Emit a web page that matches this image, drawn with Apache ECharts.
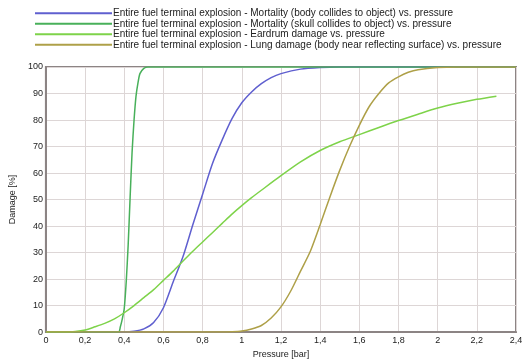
<!DOCTYPE html>
<html>
<head>
<meta charset="utf-8">
<script src="https://cdn.jsdelivr.net/npm/echarts@6/dist/echarts.min.js"></script>
<style>html,body{margin:0;padding:0;background:#fff;}#c{width:530px;height:364px;}</style>
</head>
<body>
<div id="c"></div>
<script>
const seriesNames = [
  'Entire fuel terminal explosion - Mortality (body collides to object) vs. pressure',
  'Entire fuel terminal explosion - Mortality (skull collides to object) vs. pressure',
  'Entire fuel terminal explosion - Eardrum damage vs. pressure',
  'Entire fuel terminal explosion - Lung damage (body near reflecting surface) vs. pressure'
];
const xTicks = [0, 0.2, 0.4, 0.6, 0.8, 1, 1.2, 1.4, 1.6, 1.8, 2, 2.2, 2.4];
const yTicks = [0, 10, 20, 30, 40, 50, 60, 70, 80, 90, 100];

const bodyCollides = [[0,0],[0.4,0],[0.45,0.3],[0.5,1.2],[0.55,3.6],[0.6,9.2],[0.65,19],[0.7,28.5],[0.75,40.5],[0.8,52],[0.85,63.5],[0.9,72.5],[0.95,80.5],[1.0,86.5],[1.05,90.6],[1.1,93.7],[1.15,96],[1.2,97.5],[1.3,99.2],[1.4,99.8],[1.5,100],[2.4,100]];
const skullCollides = [[0,0],[0.37,0],[0.38,2],[0.39,5],[0.40,9],[0.41,19],[0.42,33],[0.43,51],[0.44,68],[0.45,80],[0.46,89],[0.47,94],[0.48,97.5],[0.50,99.5],[0.52,100],[2.4,100]];
const eardrum = [[0,0],[0.1,0],[0.15,0.2],[0.2,0.8],[0.25,2],[0.3,3.3],[0.35,5],[0.4,7.3],[0.45,10],[0.5,13],[0.55,16],[0.6,19.5],[0.65,23],[0.7,26.8],[0.75,30.5],[0.8,34],[0.85,37.5],[0.9,41],[0.95,44.5],[1.0,47.7],[1.05,50.7],[1.1,53.5],[1.2,59],[1.3,64.2],[1.4,68.5],[1.5,71.8],[1.6,74.5],[1.7,77.2],[1.8,79.8],[1.9,82.2],[2.0,84.5],[2.1,86.3],[2.2,87.8],[2.3,89]];
const lung = [[0,0],[0.9,0],[0.95,0.1],[1.0,0.4],[1.05,1.2],[1.1,2.5],[1.15,5.3],[1.2,9.5],[1.25,15.5],[1.3,23],[1.35,30.5],[1.4,40.5],[1.45,51],[1.5,61],[1.55,70],[1.6,78],[1.65,85],[1.7,90],[1.75,94],[1.8,96.3],[1.85,98],[1.9,99],[2.0,99.8],[2.1,100],[2.4,100]];

const colors = ['#5f5fcf', '#48b05a', '#7ed34a', '#aea048'];
const dataSets = [bodyCollides, skullCollides, eardrum, lung];

const fmt = v => String(Math.round(v * 10) / 10).replace('.', ',');
const font = 'Liberation Sans, Arial, sans-serif';

const chart = echarts.init(document.getElementById('c'), null, {renderer: 'canvas'});
chart.setOption({
  animation: false,
  backgroundColor: '#fff',
  color: colors,
  legend: {
    orient: 'vertical',
    left: 30,
    top: 3,
    itemWidth: 77,
    itemHeight: 2,
    itemGap: 0,
    icon: 'rect',
    textStyle: {fontSize: 10, fontFamily: font, color: '#222', padding: [0, 0, 0, -4], lineHeight: 10.5},
    data: seriesNames
  },
  grid: {left: 45, right: 14, top: 67, bottom: 29, show: true, borderColor: '#8c8484', borderWidth: 2},
  xAxis: {
    type: 'value', min: 0, max: 2.4, interval: 0.2,
    name: 'Pressure [bar]', nameLocation: 'middle', nameGap: 17,
    nameTextStyle: {fontSize: 9, fontFamily: font, color: '#222'},
    axisLine: {show: true, onZero: false, lineStyle: {color: '#8c8484', width: 2}},
    axisTick: {show: false},
    axisLabel: {fontSize: 9, fontFamily: font, color: '#222', margin: 4, formatter: v => fmt(v), showMaxLabel: true},
    splitLine: {show: true, lineStyle: {color: '#ddd6d6', width: 1}}
  },
  yAxis: {
    type: 'value', min: 0, max: 100, interval: 10,
    name: 'Damage [%]', nameLocation: 'middle', nameGap: 27,
    nameTextStyle: {fontSize: 9, fontFamily: font, color: '#222'},
    axisLine: {show: true, lineStyle: {color: '#8c8484', width: 2}},
    axisTick: {show: false},
    axisLabel: {fontSize: 9, fontFamily: font, color: '#222', margin: 3},
    splitLine: {show: true, lineStyle: {color: '#ddd6d6', width: 1}}
  },
  series: dataSets.map((d, i) => ({
    name: seriesNames[i],
    type: 'line',
    data: d,
    showSymbol: false,
    smooth: 0.25,
    z: 3 + i,
    lineStyle: {width: 1.5, color: colors[i]},
    itemStyle: {color: colors[i]}
  }))
});
</script>
</body>
</html>
